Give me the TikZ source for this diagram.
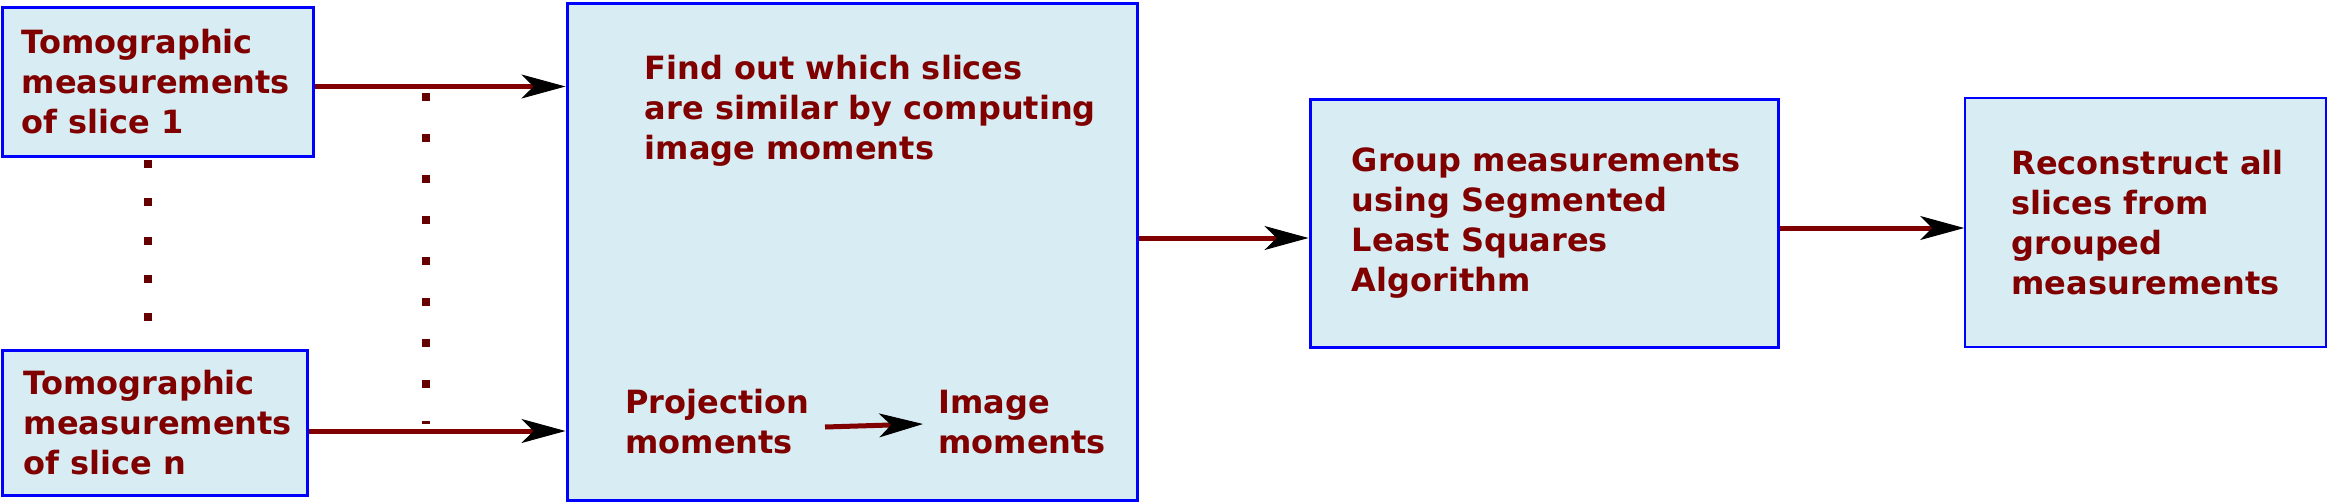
\documentclass[tikz,border=0pt]{standalone}
\usepackage{fontspec}
\setmainfont{DejaVu Sans}
\usetikzlibrary{arrows.meta,calc}
\definecolor{maroonx}{RGB}{128,0,0}
\definecolor{dotred}{RGB}{102,0,0}
\definecolor{boxfill}{RGB}{215,236,243}
\definecolor{boxblue}{RGB}{0,0,255}
\begin{document}
\begin{tikzpicture}[x=0.5pt,y=-0.5pt,
  box/.style={draw=boxblue,fill=boxfill,line width=1.5pt,inner sep=0pt,rectangle},
  txt/.style={font=\fontsize{16}{20}\selectfont\bfseries,text=maroonx,align=left,inner sep=0pt},
  arr/.style={draw=maroonx,line width=2.5pt,-{Stealth[length=22pt,width=12pt,inset=6pt,line width=0.5pt,color=black]}},
  dots/.style={draw=dotred,line width=4pt}]
\useasboundingbox (0,0) rectangle (2327,503);
% boxes
\node[box,minimum width=155.5pt,minimum height=74.5pt] (b1) at (157.5,81.5) {};
\node[box,minimum width=152.5pt,minimum height=72.5pt] (bn) at (154.5,422.5) {};
\node[box,minimum width=285pt,minimum height=248.5pt] (big) at (852,251.5) {};
\node[box,minimum width=234pt,minimum height=124pt] (b3) at (1544,223) {};
\node[box,minimum width=180.5pt,minimum height=124.5pt,line width=0.8pt] (b4) at (2145.5,222.5) {};
% texts
\node[txt,anchor=west] (t1) at ([xshift=10.5pt]b1.west) {Tomographic\\measurements\\of slice 1};
\node[txt,anchor=west] (tn) at ([xshift=11.5pt]bn.west) {Tomographic\\measurements\\of slice n};
\node[txt,anchor=north west] (tbig) at ([xshift=39.5pt,yshift=-26.5pt]big.north west) {Find out which slices\\are similar by computing\\image moments};
\node[txt,anchor=north west] (pm) at (625,389) {Projection\\moments};
\node[txt,anchor=north west] (im) at (938,389.5) {Image\\moments};
\node[txt,anchor=west] (t3) at ([xshift=21.5pt]b3.west) {Group measurements\\using Segmented\\Least Squares\\Algorithm};
\node[txt,anchor=west] (t4) at ([xshift=23.5pt]b4.west) {Reconstruct all\\slices from\\grouped\\measurements};
% helper heights
\coordinate (y1) at (0,86.5);
\coordinate (yn) at (0,431);
\coordinate (y2) at (0,238);
\coordinate (y3) at (0,228);
\coordinate (pmstart) at (825,427);
\coordinate (imend) at (923,424);
% connectors
\draw[arr] (b1.east |- y1) -- (big.west |- y1);
\draw[arr] (bn.east |- yn) -- (big.west |- yn);
\draw[arr] (big.east |- y2) -- (b3.west |- y2);
\draw[arr] (b3.east |- y3) -- (b4.west |- y3);
\draw[arr] (pmstart) -- (imend);
% dotted lines
\draw[dots,dash pattern=on 4pt off 15.15pt] (147.5,160) -- (147.5,322);
\draw[dots,dash pattern=on 4pt off 16.5pt] (426,93) -- (426,423.5);
\end{tikzpicture}
\end{document}
